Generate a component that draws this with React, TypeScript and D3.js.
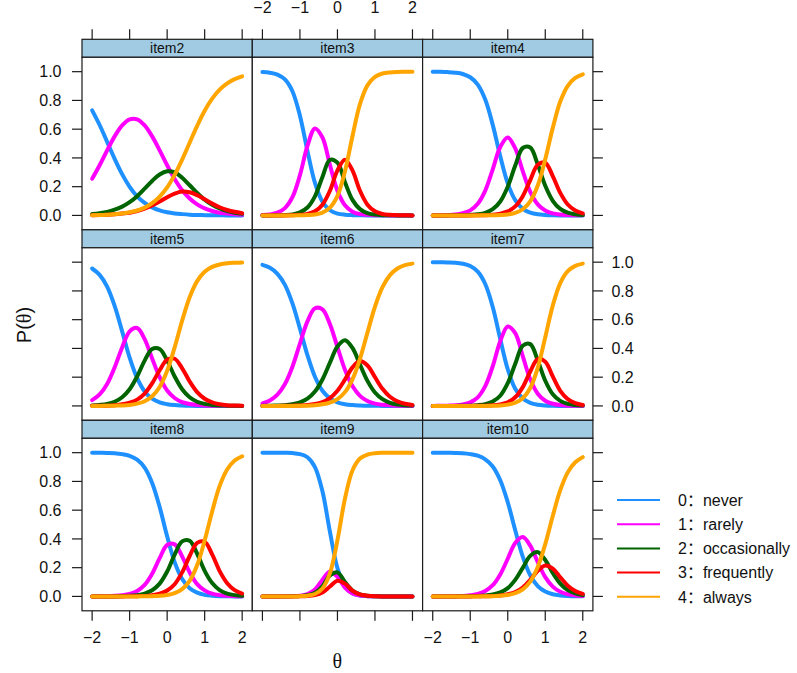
import React from "react";
import * as d3 from "d3";

const theta = [-2, -1.8, -1.6, -1.4, -1.2, -1, -0.8, -0.6, -0.4, -0.2, 0, 0.2, 0.4, 0.6, 0.8, 1, 1.2, 1.4, 1.6, 1.8, 2];

const itemNames = ["item2", "item3", "item4", "item5", "item6", "item7", "item8", "item9", "item10"];
const categories = ["0：never", "1：rarely", "2：occasionally", "3：frequently", "4：always"];
const colors = ["#1E90FF", "#FF00FF", "#006400", "#FF0000", "#FFA500"];
const xTicks = [-2, -1, 0, 1, 2];
const yTicks = [0, 0.2, 0.4, 0.6, 0.8, 1.0];

const item2 = [
  [.731, .629, .512, .394, .287, .199, .133, .087, .056, .035, .022, .014, .009, .005, .003, .002, .001, .001, 0, 0, 0],
  [.255, .349, .453, .550, .626, .668, .668, .626, .550, .453, .349, .253, .175, .118, .077, .049, .031, .019, .013, .008, .005],
  [.010, .016, .025, .040, .061, .092, .134, .186, .240, .285, .307, .299, .262, .210, .156, .109, .074, .048, .030, .019, .012],
  [.002, .003, .005, .008, .013, .019, .031, .047, .069, .096, .127, .152, .166, .161, .141, .112, .082, .057, .038, .025, .016],
  [.002, .003, .005, .008, .013, .022, .034, .054, .085, .131, .195, .282, .388, .506, .623, .728, .812, .875, .919, .948, .967],
];
const item3 = [
  [.997, .993, .980, .946, .864, .694, .449, .226, .095, .036, .013, .005, .002, .001, 0, 0, 0, 0, 0, 0, 0],
  [.003, .007, .019, .051, .127, .280, .483, .605, .542, .351, .171, .070, .026, .009, .004, .001, .001, 0, 0, 0, 0],
  [0, 0, .001, .003, .007, .021, .055, .133, .268, .387, .367, .231, .108, .044, .016, .006, .002, .001, 0, 0, 0],
  [0, 0, 0, 0, .002, .004, .010, .029, .075, .172, .313, .388, .313, .172, .075, .029, .010, .004, .002, .001, 0],
  [0, 0, 0, 0, 0, .001, .003, .007, .020, .054, .136, .306, .551, .774, .905, .964, .987, .995, .998, .999, 1],
];
const item4 = [
  [1, .999, .997, .993, .984, .961, .910, .806, .630, .412, .223, .106, .046, .020, .008, .003, .001, 0, 0, 0, 0],
  [0, .001, .003, .006, .015, .035, .081, .173, .321, .476, .542, .466, .308, .164, .077, .034, .014, .006, .003, .001, .001],
  [0, 0, 0, .001, .001, .004, .008, .018, .043, .097, .200, .347, .469, .472, .354, .206, .102, .045, .019, .008, .003],
  [0, 0, 0, 0, 0, 0, .001, .002, .005, .012, .028, .063, .134, .246, .353, .366, .274, .157, .076, .034, .014],
  [0, 0, 0, 0, 0, 0, 0, .001, .001, .003, .007, .018, .043, .098, .208, .391, .609, .792, .902, .957, .982],
];
const item5 = [
  [.956, .912, .830, .696, .519, .336, .193, .101, .050, .024, .012, .006, .003, .001, 0, 0, 0, 0, 0, 0, 0],
  [.040, .080, .153, .268, .407, .519, .542, .465, .330, .200, .107, .055, .026, .013, .007, .003, .001, .001, 0, 0, 0],
  [.003, .007, .014, .029, .060, .116, .205, .315, .396, .396, .315, .205, .116, .060, .029, .014, .007, .003, .002, .001, 0],
  [.001, .001, .002, .005, .011, .022, .044, .086, .157, .248, .322, .328, .262, .170, .096, .050, .025, .012, .005, .003, .002],
  [0, 0, .001, .002, .003, .007, .016, .033, .067, .132, .244, .407, .593, .756, .868, .933, .967, .984, .993, .996, .998],
];
const item6 = [
  [.981, .961, .919, .842, .713, .538, .353, .203, .106, .053, .025, .012, .006, .003, .001, .001, 0, 0, 0, 0, 0],
  [.018, .038, .078, .152, .273, .434, .588, .679, .672, .568, .409, .252, .138, .070, .034, .016, .008, .004, .002, .001, 0],
  [.001, .001, .003, .005, .012, .024, .050, .100, .184, .301, .413, .457, .403, .288, .174, .093, .047, .022, .010, .005, .003],
  [0, 0, 0, .001, .002, .003, .006, .013, .027, .055, .106, .183, .268, .312, .281, .200, .119, .064, .032, .015, .007],
  [0, 0, 0, 0, 0, .001, .002, .005, .011, .023, .047, .096, .185, .327, .510, .690, .826, .910, .956, .979, .990],
];
const item7 = [
  [1, .999, .998, .996, .989, .973, .934, .848, .688, .465, .255, .119, .051, .021, .008, .003, .001, 0, 0, 0, 0],
  [0, .001, .002, .004, .010, .025, .060, .138, .276, .450, .553, .506, .346, .185, .085, .036, .015, .006, .002, .001, 0],
  [0, 0, 0, 0, .001, .002, .005, .012, .031, .071, .158, .293, .419, .430, .316, .175, .081, .035, .014, .006, .003],
  [0, 0, 0, 0, 0, 0, .001, .002, .004, .011, .025, .060, .131, .239, .326, .308, .205, .105, .047, .019, .007],
  [0, 0, 0, 0, 0, 0, 0, 0, .001, .003, .009, .022, .053, .125, .265, .478, .698, .854, .937, .974, .990],
];
const item8 = [
  [1, .999, .998, .996, .990, .978, .951, .896, .789, .622, .418, .239, .121, .057, .026, .011, .005, .002, .001, 0, 0],
  [0, .001, .002, .004, .008, .017, .038, .080, .158, .266, .358, .362, .278, .167, .086, .042, .019, .009, .004, .002, .001],
  [0, 0, 0, 0, .002, .004, .009, .020, .043, .089, .173, .291, .383, .387, .297, .178, .093, .044, .020, .009, .004],
  [0, 0, 0, 0, 0, .001, .002, .003, .008, .019, .041, .085, .167, .281, .373, .380, .292, .176, .092, .044, .020],
  [0, 0, 0, 0, 0, 0, 0, .001, .002, .004, .010, .023, .051, .108, .218, .389, .591, .769, .883, .945, .975],
];
const item9 = [
  [1, 1, 1, .999, .997, .990, .968, .900, .731, .449, .197, .069, .022, .007, .002, .001, 0, 0, 0, 0, 0],
  [0, 0, 0, .001, .002, .005, .016, .048, .115, .174, .136, .062, .021, .006, .002, .001, 0, 0, 0, 0, 0],
  [0, 0, 0, 0, .001, .003, .008, .025, .071, .146, .167, .100, .040, .014, .004, .001, 0, 0, 0, 0, 0],
  [0, 0, 0, 0, 0, .001, .003, .010, .028, .069, .109, .089, .041, .014, .005, .001, 0, 0, 0, 0, 0],
  [0, 0, 0, 0, 0, .002, .005, .017, .055, .162, .391, .680, .876, .959, .987, .996, .999, 1, 1, 1, 1],
];
const item10 = [
  [1, 1, .999, .998, .996, .990, .979, .954, .904, .808, .655, .460, .277, .147, .072, .034, .015, .007, .003, .001, .001],
  [0, 0, .001, .002, .003, .008, .017, .038, .078, .153, .262, .372, .413, .353, .238, .134, .068, .032, .015, .007, .003],
  [0, 0, 0, 0, .001, .002, .003, .006, .013, .028, .058, .115, .199, .282, .308, .253, .163, .089, .044, .021, .009],
  [0, 0, 0, 0, 0, 0, .001, .001, .003, .006, .015, .030, .062, .115, .178, .215, .194, .133, .075, .038, .018],
  [0, 0, 0, 0, 0, 0, 0, .001, .002, .005, .010, .023, .049, .103, .204, .364, .560, .739, .863, .933, .969],
];

const itemData = [item2, item3, item4, item5, item6, item7, item8, item9, item10];

const W = 797;
const H = 673;
const colX = [82, 252.3, 422.6];
const panelW = 170.3;
const rowTop = [39.3, 229.8, 420.3];
const stripH = 18;
const panelH = 172.5;
const tickLen = 10;
const sans = "'Liberation Sans', Arial, Helvetica, 'Noto Sans CJK SC', sans-serif";
const serif = "'Liberation Serif', 'Times New Roman', serif";
const border = "#1a1a1a";

const fmtX = (v: number) => (v < 0 ? "\u2212" + Math.abs(v) : String(v));
const fmtY = d3.format(".1f");

export default function App() {
  const panels = itemNames.map((name, i) => {
    const r = Math.floor(i / 3);
    const c = i % 3;
    const x = d3.scaleLinear().domain([-2.27, 2.27]).range([colX[c], colX[c] + panelW]);
    const top = rowTop[r] + stripH;
    const y = d3.scaleLinear().domain([-0.1, 1.1]).range([top + panelH, top]);
    const line = d3
      .line<number>()
      .x((_, k) => x(theta[k]))
      .y((v) => y(v))
      .curve(d3.curveCatmullRom.alpha(0.5));
    return { name, r, c, x, y, top, line, data: itemData[i] };
  });

  return (
    <svg width={W} height={H} style={{ position: "absolute", left: 0, top: 0, background: "#fff" }}>
      <rect x={0} y={0} width={W} height={H} fill="#fff" />
      {panels.map((p) => (
        <g key={p.name}>
          <rect x={colX[p.c]} y={rowTop[p.r]} width={panelW} height={stripH} fill="#A1CBE2" stroke={border} strokeWidth={1.2} />
          <text x={colX[p.c] + panelW / 2} y={rowTop[p.r] + 14} textAnchor="middle" fontFamily={sans} fontSize={14} fill="#111">
            {p.name}
          </text>
          <rect x={colX[p.c]} y={p.top} width={panelW} height={panelH} fill="#fff" stroke={border} strokeWidth={1.2} />
          {p.data.map((vals, k) => (
            <path key={k} d={p.line(vals) || ""} fill="none" stroke={colors[k]} strokeWidth={4} strokeLinejoin="round" strokeLinecap="round" />
          ))}
        </g>
      ))}
      {/* top axis */}
      {[0, 1, 2].map((c) => {
        const x = panels[c].x;
        return (
          <g key={"top" + c}>
            {xTicks.map((t) => (
              <line key={t} x1={x(t)} x2={x(t)} y1={rowTop[0]} y2={rowTop[0] - tickLen} stroke={border} strokeWidth={1.2} />
            ))}
            {c === 1 &&
              xTicks.map((t) => (
                <text key={"l" + t} x={x(t)} y={13} textAnchor="middle" fontFamily={sans} fontSize={16} fill="#111">
                  {fmtX(t)}
                </text>
              ))}
          </g>
        );
      })}
      {/* bottom axis */}
      {[0, 1, 2].map((c) => {
        const x = panels[6 + c].x;
        const yb = rowTop[2] + stripH + panelH;
        return (
          <g key={"bot" + c}>
            {xTicks.map((t) => (
              <line key={t} x1={x(t)} x2={x(t)} y1={yb} y2={yb + tickLen} stroke={border} strokeWidth={1.2} />
            ))}
            {c !== 1 &&
              xTicks.map((t) => (
                <text key={"l" + t} x={x(t)} y={643} textAnchor="middle" fontFamily={sans} fontSize={16} fill="#111">
                  {fmtX(t)}
                </text>
              ))}
          </g>
        );
      })}
      {/* left axis */}
      {[0, 1, 2].map((r) => {
        const y = panels[r * 3].y;
        return (
          <g key={"left" + r}>
            {yTicks.map((t) => (
              <line key={t} x1={colX[0]} x2={colX[0] - tickLen} y1={y(t)} y2={y(t)} stroke={border} strokeWidth={1.2} />
            ))}
            {r !== 1 &&
              yTicks.map((t) => (
                <text key={"l" + t} x={61.5} y={y(t) + 5.8} textAnchor="end" fontFamily={sans} fontSize={16} fill="#111">
                  {fmtY(t)}
                </text>
              ))}
          </g>
        );
      })}
      {/* right axis */}
      {[0, 1, 2].map((r) => {
        const y = panels[r * 3 + 2].y;
        const xr = colX[2] + panelW;
        return (
          <g key={"right" + r}>
            {yTicks.map((t) => (
              <line key={t} x1={xr} x2={xr + tickLen} y1={y(t)} y2={y(t)} stroke={border} strokeWidth={1.2} />
            ))}
            {r === 1 &&
              yTicks.map((t) => (
                <text key={"l" + t} x={xr + 18.5} y={y(t) + 5.8} textAnchor="start" fontFamily={sans} fontSize={16} fill="#111">
                  {fmtY(t)}
                </text>
              ))}
          </g>
        );
      })}
      {/* axis titles */}
      <text x={337.4} y={668} textAnchor="middle" fontFamily={serif} fontSize={20} fill="#111">
        θ
      </text>
      <text transform={`translate(31, ${(rowTop[0] + rowTop[2] + stripH + panelH) / 2}) rotate(-90)`} textAnchor="middle" fontFamily={sans} fontSize={20} fill="#111">
        P(<tspan fontFamily={serif}>θ</tspan>)
      </text>
      {/* legend */}
      {categories.map((cat, k) => {
        const ly = 500 + k * 24.2;
        return (
          <g key={cat}>
            <line x1={617} x2={660} y1={ly} y2={ly} stroke={colors[k]} strokeWidth={2} />
            <text x={678} y={ly + 5.8} fontFamily={sans} fontSize={16} fill="#111">
              {cat}
            </text>
          </g>
        );
      })}
    </svg>
  );
}
